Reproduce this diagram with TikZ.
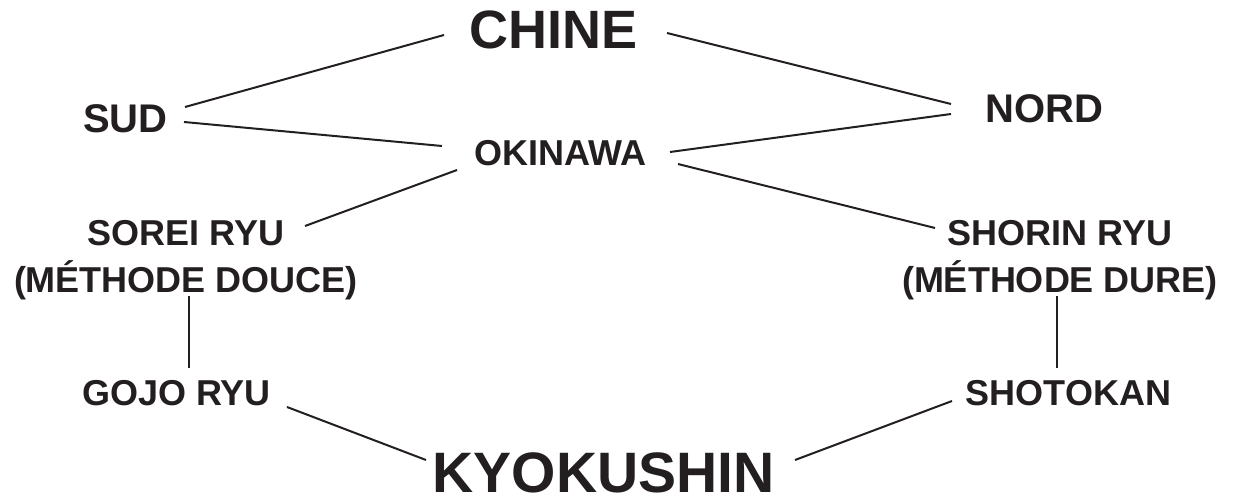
\documentclass[tikz,border=0pt]{standalone}
\usepackage{fontspec}
\setmainfont{Liberation Sans}
\usetikzlibrary{calc}
\definecolor{ink}{HTML}{231F20}
\tikzset{
  lbl/.style={inner sep=0pt, anchor=base, text=ink},
  huge/.style={lbl, font=\fontsize{54}{60}\selectfont\bfseries},
  large/.style={lbl, font=\fontsize{40}{46}\selectfont\bfseries},
  medium/.style={lbl, font=\fontsize{36}{47}\selectfont\bfseries},
  link/.style={draw=ink, line width=2pt}
}
\begin{document}
\begin{tikzpicture}[x=1pt,y=-1pt]
\useasboundingbox (0,0) rectangle (1233,502);
\node[huge]   (chine)   at (553.5,49)  {CHINE};
\node[large]  (sud)     at (125.5,133) {SUD};
\node[large]  (nord)    at (1044,123)  {NORD};
\node[medium] (okinawa) at (560,166)   {OKINAWA};
\node[medium] (sorei)   at (186,246)   {\begin{tabular}[t]{@{}c@{}}SOREI RYU\\(MÉTHODE DOUCE)\end{tabular}};
\node[medium] (shorin)  at (1060,246)  {\begin{tabular}[t]{@{}c@{}}SHORIN RYU\\(MÉTHODE DURE)\end{tabular}};
\node[medium] (gojo)    at (176.5,405) {GOJO RYU};
\node[medium] (shotokan) at (1068.5,405) {SHOTOKAN};
\node[huge, font=\fontsize{57}{64}\selectfont\bfseries] (kyoku) at (603.5,492) {KYOKUSHIN};

\draw[link] ($(sud.base)+(59.5,-26)$) -- ($(chine.base)+(-109.5,-14)$);
\draw[link] ($(sud.base)+(58.5,-11)$) -- ($(okinawa.base)+(-118,-20)$);
\draw[link] ($(chine.base)+(113.5,-16)$) -- ($(nord.base)+(-93,-19)$);
\draw[link] ($(nord.base)+(-93,-9)$) -- ($(okinawa.base)+(110,-14)$);
\draw[link] ($(okinawa.base)+(-103,4)$) -- ($(sorei.base)+(119,-20)$);
\draw[link] ($(okinawa.base)+(118,-2)$) -- ($(shorin.base)+(-125,-18)$);
\draw[link] ($(sorei.base)+(3,50)$) -- ($(gojo.base)+(12.5,-37)$);
\draw[link] ($(shorin.base)+(-3,50)$) -- ($(shotokan.base)+(-11.5,-37)$);
\draw[link] ($(gojo.base)+(110.5,2)$) -- ($(kyoku.base)+(-177.5,-32)$);
\draw[link] ($(shotokan.base)+(-116.5,-4)$) -- ($(kyoku.base)+(191.5,-32)$);
\end{tikzpicture}
\end{document}
